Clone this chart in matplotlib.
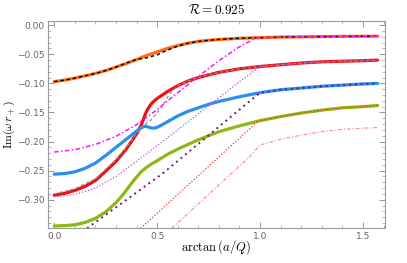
import numpy as np
import matplotlib
matplotlib.use("Agg")
import matplotlib.pyplot as plt
from matplotlib.ticker import MultipleLocator, FixedLocator

plt.rcParams['mathtext.fontset'] = 'cm'

# ---- data ----
x_orange = [0, 0.05, 0.1, 0.15, 0.2, 0.25, 0.3, 0.35, 0.4, 0.45, 0.5, 0.55, 0.6, 0.65, 0.7, 0.75, 0.8, 0.9, 1.0, 1.1, 1.2, 1.4, 1.571]
y_orange = [-0.097, -0.0945, -0.091, -0.087, -0.083, -0.078, -0.072, -0.066, -0.059, -0.052, -0.046, -0.040, -0.035, -0.031, -0.028, -0.026, -0.0245, -0.0225, -0.0215, -0.0205, -0.020, -0.0193, -0.019]
y_black = [-0.097, -0.0945, -0.091, -0.087, -0.083, -0.078, -0.072, -0.065, -0.059, -0.056, -0.051, -0.043, -0.036, -0.031, -0.028, -0.026, -0.0245, -0.0225, -0.0215, -0.0205, -0.020, -0.0193, -0.019]

x_red = [0, 0.05, 0.1, 0.15, 0.2, 0.25, 0.3, 0.35, 0.375, 0.4, 0.41, 0.42, 0.43, 0.44, 0.45, 0.46, 0.47, 0.48, 0.49, 0.5, 0.525, 0.55, 0.575, 0.6, 0.65, 0.7, 0.8, 0.9, 1.0, 1.1, 1.2, 1.3, 1.4, 1.5, 1.571]
y_red = [-0.292, -0.289, -0.284, -0.277, -0.267, -0.251, -0.234, -0.213, -0.200, -0.187, -0.181, -0.174, -0.165, -0.155, -0.147, -0.141, -0.136, -0.132, -0.129, -0.126, -0.120, -0.114, -0.109, -0.104, -0.096, -0.090, -0.081, -0.075, -0.071, -0.068, -0.065, -0.063, -0.062, -0.061, -0.060]

x_gray = [0, 0.1, 0.2, 0.3, 0.35, 0.4, 0.42, 0.47, 0.52, 0.56, 0.6, 0.65, 0.7, 0.8, 0.9, 1.0, 1.2, 1.4, 1.571]
y_gray = [-0.290, -0.281, -0.264, -0.231, -0.210, -0.186, -0.177, -0.163, -0.142, -0.118, -0.104, -0.096, -0.090, -0.081, -0.075, -0.071, -0.065, -0.062, -0.060]

x_blue = [0, 0.05, 0.1, 0.15, 0.2, 0.25, 0.3, 0.35, 0.4, 0.415, 0.43, 0.44, 0.45, 0.46, 0.47, 0.485, 0.5, 0.525, 0.55, 0.6, 0.65, 0.7, 0.75, 0.8, 0.9, 1.0, 1.1, 1.2, 1.3, 1.4, 1.5, 1.571]
y_blue = [-0.256, -0.255, -0.252, -0.246, -0.237, -0.224, -0.210, -0.196, -0.182, -0.178, -0.175, -0.1738, -0.1742, -0.1755, -0.1765, -0.177, -0.1755, -0.171, -0.166, -0.156, -0.148, -0.142, -0.136, -0.131, -0.123, -0.116, -0.111, -0.108, -0.105, -0.103, -0.101, -0.100]

x_green = [0, 0.05, 0.1, 0.15, 0.2, 0.25, 0.3, 0.325, 0.35, 0.375, 0.4, 0.425, 0.45, 0.475, 0.5, 0.55, 0.6, 0.7, 0.8, 0.9, 1.0, 1.1, 1.2, 1.3, 1.4, 1.5, 1.571]
y_green = [-0.345, -0.3445, -0.343, -0.339, -0.332, -0.321, -0.305, -0.295, -0.284, -0.272, -0.261, -0.251, -0.244, -0.238, -0.233, -0.222, -0.213, -0.197, -0.183, -0.173, -0.164, -0.157, -0.151, -0.146, -0.142, -0.140, -0.138]

x_magenta = [0, 0.1, 0.2, 0.3, 0.4, 0.5, 0.6, 0.7, 0.8, 0.9, 0.98, 1.0, 1.2, 1.4, 1.571]
y_magenta = [-0.218, -0.214, -0.205, -0.191, -0.171, -0.145, -0.116, -0.088, -0.061, -0.037, -0.022, -0.0215, -0.020, -0.0193, -0.019]

x_orchid = [0, 0.1, 0.2, 0.3, 0.4, 0.5, 0.6, 0.7, 0.8, 0.9, 1.0, 1.1, 1.2, 1.3, 1.4, 1.5, 1.571]
y_orchid = [-0.295, -0.291, -0.280, -0.260, -0.234, -0.207, -0.180, -0.152, -0.125, -0.097, -0.071, -0.068, -0.065, -0.063, -0.062, -0.061, -0.060]

x_purple = [0.16, 0.53, 0.89, 1.0, 1.1, 1.2, 1.3, 1.4, 1.5, 1.571]
y_purple = [-0.349, -0.254, -0.148, -0.116, -0.111, -0.108, -0.105, -0.103, -0.101, -0.100]

x_reddot = [0.42, 0.99, 1.1, 1.2, 1.3, 1.4, 1.5, 1.571]
y_reddot = [-0.349, -0.165, -0.157, -0.151, -0.146, -0.142, -0.140, -0.138]

x_pink = [0.571, 0.95, 1.0, 1.1, 1.2, 1.3, 1.4, 1.5, 1.571]
y_pink = [-0.349, -0.226, -0.206, -0.196, -0.189, -0.183, -0.179, -0.177, -0.176]

x_ticks = [0.0, 0.5, 1.0, 1.5]
x_ticklabels = ["0.0", "0.5", "1.0", "1.5"]
y_ticks = [0.0, -0.05, -0.10, -0.15, -0.20, -0.25, -0.30]
y_ticklabels = ["0.00", "\u22120.05", "\u22120.10", "\u22120.15", "\u22120.20", "\u22120.25", "\u22120.30"]

# ---- figure ----
fig = plt.figure(figsize=(4.07, 2.63), dpi=100)
ax = fig.add_axes([0.118, 0.132, 0.828, 0.790])

lw = 2.3
kw = dict(lw=lw, solid_capstyle='round', solid_joinstyle='round')
ax.plot(x_orange, y_orange, color='#FF6A10', **kw)
ax.plot(x_red, y_red, color='#F01010', **kw)
ax.plot(x_blue, y_blue, color='#2B8FF0', **kw)
ax.plot(x_green, y_green, color='#8DB814', **kw)

ax.plot(x_gray, y_gray, color='#909090', lw=0.9, ls=(0, (2.5, 2)))
ax.plot(x_orange, y_black, color='black', lw=1.0, ls=(0, (2.5, 2)))
ax.plot(x_magenta, y_magenta, color='#FF10FF', lw=1.1, ls=(0, (3, 1.5, 1, 1.5)))
ax.plot(x_orchid, y_orchid, color='#C050E0', lw=0.9, ls=(0, (1, 1.5)))
ax.plot(x_purple, y_purple, color='#7A1080', lw=1.4, ls=(0, (1, 2)))
ax.plot(x_reddot, y_reddot, color='#FF3030', lw=0.9, ls=(0, (1, 1.5)))
ax.plot(x_pink, y_pink, color='#FF9090', lw=0.9, ls=(0, (3, 1.5, 1, 1.5)))

ax.set_xlim(-0.03, 1.607)
ax.set_ylim(-0.349, 0.008)

gray = '#999999'
for s in ax.spines.values():
    s.set_color(gray)
    s.set_linewidth(0.8)

ax.xaxis.set_major_locator(FixedLocator(x_ticks))
ax.set_xticklabels(x_ticklabels)
ax.xaxis.set_minor_locator(MultipleLocator(0.1))
ax.yaxis.set_major_locator(FixedLocator(y_ticks))
ax.set_yticklabels(y_ticklabels)
ax.yaxis.set_minor_locator(MultipleLocator(0.01))
ax.tick_params(which='both', direction='in', top=True, right=True, color=gray,
               labelcolor='#666666', labelsize=6.5)
ax.tick_params(which='major', length=4, width=0.7, pad=2.5)
ax.tick_params(which='minor', length=2, width=0.5)

ax.set_title(r'$\mathcal{R} = 0.925$', fontsize=9.5, pad=5)
fig.text(0.53, 0.025, r'$\mathrm{arctan}\,(a/Q)$', fontsize=9, ha='center', va='bottom')
fig.text(0.004, 0.527, r'$\mathrm{Im}(\omega\, r_+)$', fontsize=8.5, ha='left', va='center', rotation=90)

fig.savefig('out.png', dpi=100)
